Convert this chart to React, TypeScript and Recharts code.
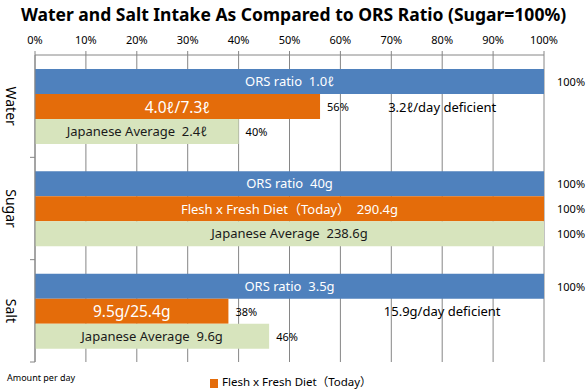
import React from 'react';
import { BarChart, Bar, XAxis, YAxis, CartesianGrid, LabelList } from 'recharts';

const FONT = "'Noto Sans', 'Noto Sans CJK JP', sans-serif";
const NB = '\u00A0\u00A0'; // double gap kept inside the bar labels

const categories = ['Water', 'Sugar', 'Salt'];
const orsValues = [100, 100, 100];
const dietValues = [56, 100, 38];
const avgValues = [40, 100, 46];
const orsLabels = [`ORS ratio${NB}1.0ℓ`, `ORS ratio${NB}40g`, `ORS ratio${NB}3.5g`];
const dietLabels = ['4.0ℓ/7.3ℓ', `Flesh x Fresh Diet（Today）${NB}290.4g`, '9.5g/25.4g'];
const avgLabels = [`Japanese Average${NB}2.4ℓ`, `Japanese Average${NB}238.6g`, `Japanese Average${NB}9.6g`];
const notes = ['3.2ℓ/day deficient', '', '15.9g/day deficient'];
const noteAt = 80; // axis value where the deficiency note is centred
const xTicks = [0, 10, 20, 30, 40, 50, 60, 70, 80, 90, 100];
const dietName = 'Flesh x Fresh Diet（Today）';

const COLORS = { ors: '#4F81BD', diet: '#E46C0A', avg: '#D7E4BD', grid: '#868686' };

const data = categories.map((name, i) => ({
  name,
  ors: orsValues[i],
  diet: dietValues[i],
  avg: avgValues[i],
  orsLabel: orsLabels[i],
  dietLabel: dietLabels[i],
  avgLabel: avgLabels[i],
  note: notes[i],
}));

const PercentLabel = (props: any) => {
  const { x, y, width, height, value } = props;
  const gap = value >= 100 ? 13 : 7;
  return (
    <text x={x + width + gap} y={y + height / 2} dominantBaseline="central" fontSize={11} fill="#000" fontFamily={FONT}>
      {value}%
    </text>
  );
};

// short ratio labels in the orange bars are drawn bigger than the long one
const DietLabel = (props: any) => {
  const { x, y, width, height, value } = props;
  const size = String(value).length > 16 ? 13 : 15.5;
  return (
    <text x={x + width / 2} y={y + height / 2} dominantBaseline="central" textAnchor="middle" fontSize={size} fill="#fff" fontFamily={FONT}>
      {value}
    </text>
  );
};

const NoteLabel = (props: any) => {
  const { x, y, width, height, value, index } = props;
  if (!value) return null;
  const perUnit = width / dietValues[index];
  return (
    <text x={x + perUnit * noteAt} y={y + height / 2} dominantBaseline="central" textAnchor="middle" fontSize={13} fill="#000" fontFamily={FONT}>
      {value}
    </text>
  );
};

const CategoryTick = (props: any) => {
  const { x, y, payload } = props;
  const off = payload?.offset ?? 0;
  return (
    <g>
      <line x1={x} x2={x + 5} y1={y + off} y2={y + off} stroke={COLORS.grid} />
      <text
        x={x - 19}
        y={y}
        transform={`rotate(90, ${x - 19}, ${y})`}
        textAnchor="middle"
        dominantBaseline="central"
        fontSize={14}
        fill="#000"
        fontFamily={FONT}
      >
        {payload.value}
      </text>
    </g>
  );
};

export default function App() {
  return (
    <div style={{ position: 'absolute', left: 0, top: 0, width: 587, height: 389, background: '#fff', fontFamily: FONT }}>
      <div style={{ position: 'absolute', left: 0, top: 2, width: 587, textAlign: 'center', fontSize: 17.5, lineHeight: '24px', fontWeight: 'bold', color: '#000' }}>
        Water and Salt Intake As Compared to ORS Ratio (Sugar=100%)
      </div>
      <BarChart
        width={587}
        height={389}
        data={data}
        layout="vertical"
        barSize={25}
        barGap={0}
        margin={{ top: 35, right: 43, left: 0, bottom: 27 }}
      >
        <CartesianGrid horizontal={false} stroke={COLORS.grid} />
        <XAxis
          type="number"
          orientation="top"
          domain={[0, 100]}
          ticks={xTicks}
          height={20}
          tickFormatter={(v) => `${v}%`}
          tick={{ fontSize: 11, fill: '#000', fontFamily: FONT }}
          tickSize={4}
          tickMargin={7}
          stroke={COLORS.grid}
          interval={0}
        />
        <YAxis
          type="category"
          dataKey="name"
          width={35}
          tickSize={5}
          tickMargin={0}
          tickLine={false}
          stroke={COLORS.grid}
          tick={<CategoryTick />}
        />
        <Bar dataKey="ors" fill={COLORS.ors} isAnimationActive={false}>
          <LabelList dataKey="orsLabel" position="center" fill="#fff" fontSize={13} fontFamily={FONT} />
          <LabelList dataKey="ors" content={<PercentLabel />} />
        </Bar>
        <Bar dataKey="diet" name={dietName} fill={COLORS.diet} isAnimationActive={false}>
          <LabelList dataKey="dietLabel" content={<DietLabel />} />
          <LabelList dataKey="diet" content={<PercentLabel />} />
          <LabelList dataKey="note" content={<NoteLabel />} />
        </Bar>
        <Bar dataKey="avg" fill={COLORS.avg} isAnimationActive={false}>
          <LabelList dataKey="avgLabel" position="center" fill="#1a1a1a" fontSize={13} fontFamily={FONT} />
          <LabelList dataKey="avg" content={<PercentLabel />} />
        </Bar>
      </BarChart>
      <div style={{ position: 'absolute', left: 7, top: 372, fontSize: 9, lineHeight: '12px', color: '#000' }}>Amount per day</div>
      <div style={{ position: 'absolute', left: 210, top: 374, height: 15, display: 'flex', alignItems: 'center', fontSize: 11.5, lineHeight: '15px', color: '#000' }}>
        <span style={{ display: 'inline-block', width: 8, height: 9, background: COLORS.diet, marginRight: 4, marginTop: 3 }} />
        <span>{dietName}</span>
      </div>
    </div>
  );
}
